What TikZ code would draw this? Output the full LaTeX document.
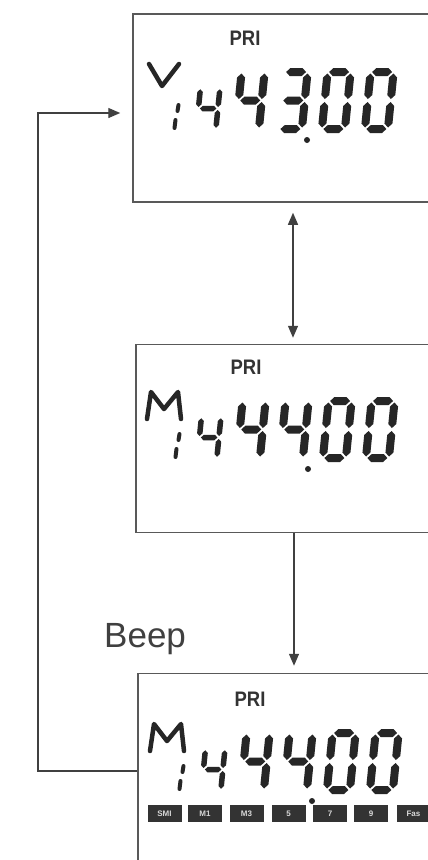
\documentclass[tikz,border=0pt]{standalone}
\usepackage{fontspec}
\setmainfont{Liberation Sans}
\usetikzlibrary{arrows.meta,calc}

\tikzset{
  lcdbox/.style={draw=black!65, line width=1.5pt, minimum width=307pt, minimum height=188pt, inner sep=0pt},
  conn/.style={draw=black!75, line width=1.3pt, -{Triangle[length=12pt,width=10pt]}},
  segfill/.style={fill=black!85},
  lcdstroke/.style={draw=black!85, line width=4.5pt, line cap=round, line join=round},
  tag/.style={fill=black!80, text=black!15, minimum width=34pt, minimum height=17pt, inner sep=0pt, font=\bfseries\fontsize{8}{8}\selectfont},
  prilabel/.style={font=\bfseries\fontsize{21}{21}\selectfont, text=black!80, inner sep=0pt, xscale=0.88},
}

\newcommand{\lcdhseg}[3]{\fill[segfill] ({#1},{#3}) -- ({#1+\dhT},{#3-\dhT}) -- ({#2-\dhT},{#3-\dhT}) -- ({#2},{#3}) -- ({#2-\dhT},{#3+\dhT}) -- ({#1+\dhT},{#3+\dhT}) -- cycle;}
\newcommand{\lcdvseg}[3]{\fill[segfill] ({#1},{#2}) -- ({#1+\dhT},{#2+\dhT}) -- ({#1+\dhT},{#3-\dhT}) -- ({#1},{#3}) -- ({#1-\dhT},{#3-\dhT}) -- ({#1-\dhT},{#2+\dhT}) -- cycle;}
\newcommand{\lcdsega}{\lcdhseg{\dhT+\dG}{\dW-\dhT-\dG}{\dhT}}
\newcommand{\lcdsegg}{\lcdhseg{\dhT+\dG}{\dW-\dhT-\dG}{\dH/2}}
\newcommand{\lcdsegd}{\lcdhseg{\dhT+\dG}{\dW-\dhT-\dG}{\dH-\dhT}}
\newcommand{\lcdsegf}{\lcdvseg{\dhT}{\dhT+\dG}{\dH/2-\dG}}
\newcommand{\lcdsegb}{\lcdvseg{\dW-\dhT}{\dhT+\dG}{\dH/2-\dG}}
\newcommand{\lcdsege}{\lcdvseg{\dhT}{\dH/2+\dG}{\dH-\dhT-\dG}}
\newcommand{\lcdsegc}{\lcdvseg{\dW-\dhT}{\dH/2+\dG}{\dH-\dhT-\dG}}
\newcommand{\lcddigit}[6]{%
  \begin{scope}[shift={(#1,#2)},xslant=0.1]
    \pgfmathsetmacro{\dW}{#3}\pgfmathsetmacro{\dH}{#4}\pgfmathsetmacro{\dhT}{#5/2}\def\dG{1.5}%
    \foreach \s in {#6}{\csname lcdseg\s\endcsname}
  \end{scope}}
% panel reading: third digit segments as argument
\newcommand{\lcdreading}[1]{%
  \lcddigit{198}{85}{25}{47}{5.5}{f,g,b,c}
  \lcddigit{238}{68}{31}{65}{8}{f,g,b,c}
  \lcddigit{281}{68}{31}{65}{8}{#1}
  \lcddigit{324}{68}{31}{65}{8}{a,b,c,d,e,f}
  \lcddigit{367}{68}{31}{65}{8}{a,b,c,d,e,f}
  \fill[black!85] (307,140) circle (3);
  \draw[lcdstroke, line width=4pt] (178.5,105) -- (177.5,111);
  \draw[lcdstroke, line width=4pt] (175.5,120) -- (174.5,128);
}

\begin{document}
\begin{tikzpicture}[x=1pt,y=-1pt]
\useasboundingbox (0,0) rectangle (428,860);
\clip (0,0) rectangle (428,860);
\fill[white] (0,0) rectangle (428,860);

% boxes
\node[lcdbox] (b1) at (286.5,108) {};
\node[lcdbox] (b2) at (289.5,438.5) {};
\node[lcdbox] (b3) at (291.5,767.5) {};

% panel 1
\begin{scope}
  \node[prilabel] (pri1) at (245,38) {PRI};
  \draw[lcdstroke] (149,64) -- (162,86) -- (179,64);
  \lcdreading{a,b,g,c,d}
\end{scope}

% panel 2
\begin{scope}[shift={(1,329)}]
  \node[prilabel] (pri2) at (245,38) {PRI};
  \draw[lcdstroke] (146,90) -- (150,63) -- (163,80) -- (177,63) -- (180,90);
  \lcdreading{f,g,b,c}
\end{scope}

% panel 3
\begin{scope}[shift={(5,661)}]
  \node[prilabel] (pri3) at (245,38) {PRI};
  \draw[lcdstroke] (145,90) -- (149,63) -- (162,80) -- (176,63) -- (179,90);
  \lcdreading{f,g,b,c}
\end{scope}

% bar of tags in panel 3
\node[tag] (t1) at (164.5,813.5) {SMI};
\node[tag] (t2) at (205,813.5) {M1};
\node[tag] (t3) at (246.5,813.5) {M3};
\node[tag] (t4) at (288.5,813.5) {5};
\node[tag] (t5) at (330,813.5) {7};
\node[tag] (t6) at (371,813.5) {9};
\node[tag] (t7) at (413.5,813.5) {Fas};

% connectors
\coordinate (ax) at (293,0);
\coordinate (bx) at (294,0);
\draw[conn, {Triangle[length=12pt,width=10pt]}-{Triangle[length=12pt,width=10pt]}, shorten <=10pt, shorten >=6pt] (b1.south -| ax) -- (b2.north -| ax);
\draw[conn, shorten >=7pt] (b2.south -| bx) -- (b3.north -| bx);
\coordinate (l1) at (38,771);
\coordinate (l2) at (38,113);
\draw[conn, shorten >=12pt] (b3.west |- l1) -- (l1) -- (l2) -- (b1.west |- l2);

% label
\node[font=\fontsize{35}{35}\selectfont, text=black!75, anchor=base west, inner sep=0pt] (beep) at (104,647) {Beep};
\end{tikzpicture}
\end{document}
